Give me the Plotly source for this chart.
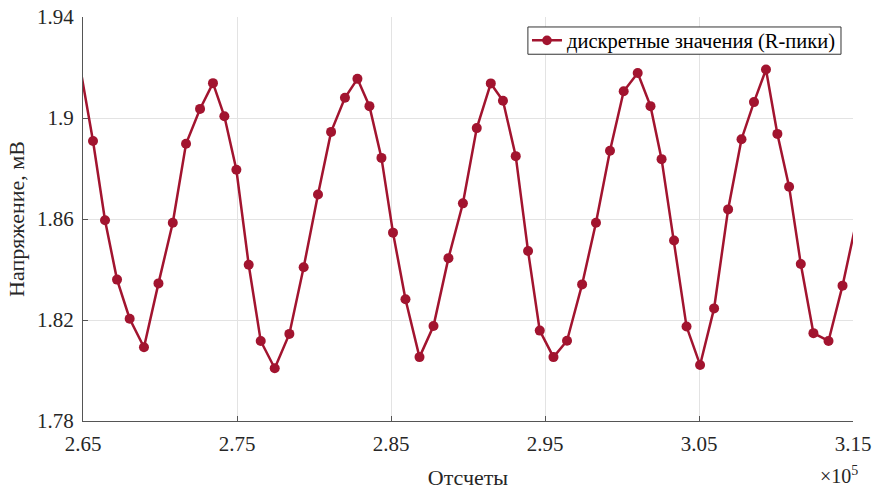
import plotly.graph_objects as go

# R-peak sample indices and voltage values (mV)
samples = [264880, 265650, 266430, 267210, 268030, 268960, 269900, 270830, 271690, 272600,
           273440, 274180, 274960, 275760, 276540, 277450, 278400, 279330, 280260, 281110,
           282010, 282820, 283600, 284380, 285130, 285940, 286850, 287760, 288730, 289670,
           290570, 291480, 292270, 293100, 293900, 294660, 295550, 296430, 297410, 298310,
           299220, 300110, 301020, 301850, 302570, 303380, 304190, 305070, 305980, 306890,
           307760, 308570, 309350, 310090, 310850, 311610, 312430, 313410, 314320, 315180]
voltage = [1.9177, 1.8909, 1.8595, 1.8360, 1.8205, 1.8092, 1.8345, 1.8585, 1.8898, 1.9036,
           1.9138, 1.9007, 1.8795, 1.8419, 1.8117, 1.8009, 1.8145, 1.8409, 1.8697, 1.8945,
           1.9080, 1.9155, 1.9047, 1.8842, 1.8546, 1.8282, 1.8053, 1.8176, 1.8445, 1.8662,
           1.8960, 1.9137, 1.9068, 1.8849, 1.8473, 1.8158, 1.8053, 1.8118, 1.8341, 1.8585,
           1.8870, 1.9106, 1.9178, 1.9047, 1.8837, 1.8515, 1.8174, 1.8022, 1.8246, 1.8638,
           1.8916, 1.9063, 1.9192, 1.8937, 1.8728, 1.8422, 1.8148, 1.8117, 1.8336, 1.8579]

x_range = [265000, 315000]
y_range = [1.78, 1.94]
x_tickvals = [265000, 275000, 285000, 295000, 305000, 315000]
x_ticktext = ["2.65", "2.75", "2.85", "2.95", "3.05", "3.15"]
y_tickvals = [1.78, 1.82, 1.86, 1.90, 1.94]
y_ticktext = ["1.78", "1.82", "1.86", "1.9", "1.94"]

series_name = "дискретные значения (R-пики)"
x_title = "Отсчеты"
y_title = "Напряжение, мВ"
exp_label = "×10<sup>5</sup>"

color = "#A2142F"
font_family = "Liberation Serif"
text_color = "#262626"

# markers of points outside the axis limits are hidden (like MATLAB clipping)
marker_sizes = [10 if x_range[0] <= s <= x_range[1] else 0 for s in samples]

fig = go.Figure()
fig.add_trace(go.Scatter(
    x=samples, y=voltage, mode="lines+markers", name=series_name,
    line=dict(color=color, width=2.5),
    marker=dict(color=color, size=marker_sizes, opacity=1, line=dict(width=0)),
    cliponaxis=True,
))

fig.update_layout(
    width=875, height=492,
    margin=dict(l=83, r=22, t=17, b=71, autoexpand=False),
    paper_bgcolor="white", plot_bgcolor="white",
    font=dict(family=font_family, size=20, color=text_color),
    showlegend=True,
    legend=dict(
        x=0.9844, y=0.9419, xanchor="right", yanchor="middle",
        bgcolor="rgba(0,0,0,0)", borderwidth=0,
        font=dict(family=font_family, size=20.5, color="black"),
        itemwidth=30, tracegroupgap=0,
    ),
    xaxis=dict(
        range=x_range, automargin=False,
        tickvals=x_tickvals, ticktext=x_ticktext,
        showgrid=True, gridcolor="#E3E3E3", gridwidth=1,
        showline=True, linecolor="#555555", linewidth=1,
        ticks="inside", ticklen=5, tickcolor="#555555",
        ticklabelstandoff=4,
        zeroline=False,
        title=dict(text=x_title, font=dict(size=22), standoff=14),
        tickfont=dict(size=21),
    ),
    yaxis=dict(
        range=y_range, automargin=False,
        tickvals=y_tickvals, ticktext=y_ticktext,
        showgrid=True, gridcolor="#E3E3E3", gridwidth=1,
        showline=True, linecolor="#555555", linewidth=1,
        ticks="inside", ticklen=5, tickcolor="#555555",
        ticklabelstandoff=4,
        zeroline=False,
        title=dict(text=y_title, font=dict(size=22), standoff=6),
        tickfont=dict(size=21),
    ),
)

# legend frame (MATLAB-style tight box)
fig.add_shape(
    type="rect", xref="paper", yref="paper",
    x0=0.5778, x1=0.9844, y0=0.9078, y1=0.9753,
    fillcolor="white", line=dict(color="#333333", width=1), layer="above",
)

fig.add_annotation(
    text=exp_label, xref="paper", yref="paper", x=1.009, y=-0.1,
    xanchor="right", yanchor="top", showarrow=False,
    font=dict(family=font_family, size=20, color=text_color),
)

fig.write_html("out.html")
